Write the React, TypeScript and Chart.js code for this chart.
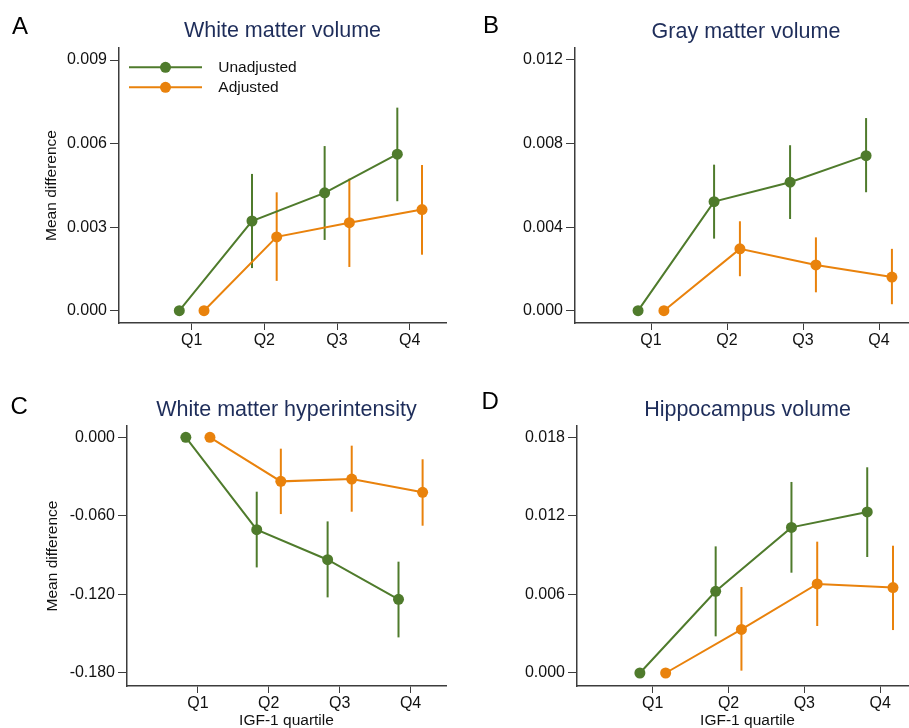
import { useEffect, useRef } from 'react';
import { Chart, registerables } from 'chart.js';
Chart.register(...registerables);

// ---- data ----
const QUARTILES = ['Q1', 'Q2', 'Q3', 'Q4'];
const QX = [1, 2, 3, 4];
const SERIES_LABELS = ['Unadjusted', 'Adjusted'];
const Y_TITLE = 'Mean difference';
const X_TITLE = 'IGF-1 quartile';

const WMV_TICKS = [0, 0.003, 0.006, 0.009];
const WMV_UNADJ = [0, 0.00322, 0.00423, 0.00562];
const WMV_UNADJ_LO = [null, 0.00153, 0.00254, 0.00393];
const WMV_UNADJ_HI = [null, 0.00491, 0.00591, 0.00729];
const WMV_ADJ = [0, 0.00265, 0.00316, 0.00363];
const WMV_ADJ_LO = [null, 0.00107, 0.00157, 0.00201];
const WMV_ADJ_HI = [null, 0.00425, 0.00474, 0.00523];

const GMV_TICKS = [0, 0.004, 0.008, 0.012];
const GMV_UNADJ = [0, 0.00522, 0.00615, 0.00742];
const GMV_UNADJ_LO = [null, 0.00345, 0.00439, 0.00567];
const GMV_UNADJ_HI = [null, 0.00699, 0.00792, 0.00922];
const GMV_ADJ = [0, 0.00296, 0.00219, 0.00161];
const GMV_ADJ_LO = [null, 0.00165, 0.00088, 0.00031];
const GMV_ADJ_HI = [null, 0.00428, 0.00351, 0.00296];

const WMH_TICKS = [-0.18, -0.12, -0.06, 0];
const WMH_UNADJ = [0, -0.0706, -0.0936, -0.1239];
const WMH_UNADJ_LO = [null, -0.0995, -0.1224, -0.153];
const WMH_UNADJ_HI = [null, -0.0416, -0.0643, -0.0951];
const WMH_ADJ = [0, -0.0337, -0.0319, -0.0421];
const WMH_ADJ_LO = [null, -0.0587, -0.0569, -0.0676];
const WMH_ADJ_HI = [null, -0.0087, -0.0064, -0.0168];

const HIP_TICKS = [0, 0.006, 0.012, 0.018];
const HIP_UNADJ = [0, 0.00624, 0.01112, 0.0123];
const HIP_UNADJ_LO = [null, 0.0028, 0.00766, 0.00886];
const HIP_UNADJ_HI = [null, 0.00967, 0.01459, 0.01571];
const HIP_ADJ = [0, 0.00333, 0.0068, 0.00652];
const HIP_ADJ_LO = [null, 0.00018, 0.00359, 0.00328];
const HIP_ADJ_HI = [null, 0.00657, 0.01003, 0.00972];

// ---- styles ----
const GREEN = '#4f7b2c';
const ORANGE = '#e9820c';
const NAVY = '#1e2d5a';
const AXIS = '#3c3c3c';
const TEXT = '#111111';
const FONT = '"Liberation Sans", Arial, Helvetica, sans-serif';
const OFFSET = 0.17;

const errorBars = {
  id: 'errorBars',
  beforeDatasetsDraw(chart: any) {
    const { ctx } = chart;
    const ys = chart.scales.y;
    chart.data.datasets.forEach((ds: any, i: number) => {
      if (!ds.errLo) return;
      const meta = chart.getDatasetMeta(i);
      ctx.save();
      ctx.strokeStyle = ds.borderColor;
      ctx.lineWidth = 2;
      meta.data.forEach((pt: any, j: number) => {
        const lo = ds.errLo[j];
        const hi = ds.errHi[j];
        if (lo == null || hi == null) return;
        ctx.beginPath();
        ctx.moveTo(pt.x, ys.getPixelForValue(lo));
        ctx.lineTo(pt.x, ys.getPixelForValue(hi));
        ctx.stroke();
      });
      ctx.restore();
    });
  },
};

const panelText = {
  id: 'panelText',
  afterDraw(chart: any, _args: any, opts: any) {
    const { ctx, chartArea } = chart;
    ctx.save();
    ctx.fillStyle = '#000';
    ctx.font = `24px ${FONT}`;
    ctx.textAlign = 'left';
    ctx.textBaseline = 'alphabetic';
    ctx.fillText(opts.letter, opts.letterX, opts.letterY);
    ctx.fillStyle = NAVY;
    ctx.font = `21.5px ${FONT}`;
    ctx.textAlign = 'center';
    ctx.fillText(opts.title, (chartArea.left + chartArea.right) / 2, opts.titleY);
    if (opts.legend) {
      const L = opts.legend;
      chart.data.datasets.forEach((ds: any, i: number) => {
        const y = L.y[i];
        ctx.strokeStyle = ds.borderColor;
        ctx.lineWidth = 2;
        ctx.beginPath();
        ctx.moveTo(L.x0, y);
        ctx.lineTo(L.x1, y);
        ctx.stroke();
        ctx.fillStyle = ds.borderColor;
        ctx.beginPath();
        ctx.arc((L.x0 + L.x1) / 2, y, 5.5, 0, Math.PI * 2);
        ctx.fill();
        ctx.fillStyle = TEXT;
        ctx.font = `15.5px ${FONT}`;
        ctx.textAlign = 'left';
        ctx.textBaseline = 'middle';
        ctx.fillText(ds.label, L.tx, y);
      });
    }
    ctx.restore();
  },
};

type Panel = {
  key: string;
  left: number; top: number; w: number; h: number;
  padL: number; padR: number; padT: number; yAxisW: number; xAxisH: number;
  yMin: number; yMax: number; yTicks: number[];
  unadj: number[]; unadjLo: (number | null)[]; unadjHi: (number | null)[];
  adj: number[]; adjLo: (number | null)[]; adjHi: (number | null)[];
  letter: string; letterX: number; letterY: number; title: string; titleY: number;
  yTitle: boolean; xTitle: boolean; legend?: any;
};

const PANELS: Panel[] = [
  {
    key: 'A', left: 0, top: 0, w: 455, h: 364,
    padL: 38, padR: 9, padT: 48, yAxisW: 81, xAxisH: 41,
    yMin: -0.000442, yMax: 0.009431, yTicks: WMV_TICKS,
    unadj: WMV_UNADJ, unadjLo: WMV_UNADJ_LO, unadjHi: WMV_UNADJ_HI,
    adj: WMV_ADJ, adjLo: WMV_ADJ_LO, adjHi: WMV_ADJ_HI,
    letter: 'A', letterX: 12, letterY: 34, title: 'White matter volume', titleY: 36.5,
    yTitle: true, xTitle: false,
    legend: { x0: 129, x1: 202, y: [67.3, 87.3], tx: 218.3 },
  },
  {
    key: 'B', left: 455, top: 0, w: 470, h: 364,
    padL: 0, padR: 8, padT: 48, yAxisW: 120, xAxisH: 41,
    yMin: -0.000589, yMax: 0.012574, yTicks: GMV_TICKS,
    unadj: GMV_UNADJ, unadjLo: GMV_UNADJ_LO, unadjHi: GMV_UNADJ_HI,
    adj: GMV_ADJ, adjLo: GMV_ADJ_LO, adjHi: GMV_ADJ_HI,
    letter: 'B', letterX: 28, letterY: 32.5, title: 'Gray matter volume', titleY: 37.5,
    yTitle: false, xTitle: false,
  },
  {
    key: 'C', left: 0, top: 364, w: 455, h: 364,
    padL: 39, padR: 9, padT: 62, yAxisW: 88, xAxisH: 42,
    yMin: -0.19017, yMax: 0.00864, yTicks: WMH_TICKS,
    unadj: WMH_UNADJ, unadjLo: WMH_UNADJ_LO, unadjHi: WMH_UNADJ_HI,
    adj: WMH_ADJ, adjLo: WMH_ADJ_LO, adjHi: WMH_ADJ_HI,
    letter: 'C', letterX: 10.5, letterY: 50, title: 'White matter hyperintensity', titleY: 51.5,
    yTitle: true, xTitle: true,
  },
  {
    key: 'D', left: 455, top: 364, w: 470, h: 364,
    padL: 0, padR: 7, padT: 62, yAxisW: 122, xAxisH: 42,
    yMin: -0.000993, yMax: 0.018863, yTicks: HIP_TICKS,
    unadj: HIP_UNADJ, unadjLo: HIP_UNADJ_LO, unadjHi: HIP_UNADJ_HI,
    adj: HIP_ADJ, adjLo: HIP_ADJ_LO, adjHi: HIP_ADJ_HI,
    letter: 'D', letterX: 26.5, letterY: 44.5, title: 'Hippocampus volume', titleY: 51.5,
    yTitle: false, xTitle: true,
  },
];

function PanelChart({ p }: { p: Panel }) {
  const ref = useRef<HTMLCanvasElement | null>(null);
  useEffect(() => {
    if (!ref.current) return;
    const mk = (vals: number[], off: number) => vals.map((v, i) => ({ x: QX[i] + off, y: v }));
    const chart = new Chart(ref.current, {
      type: 'line',
      data: {
        datasets: [
          {
            label: SERIES_LABELS[0], data: mk(p.unadj, -OFFSET),
            borderColor: GREEN, backgroundColor: GREEN, pointBackgroundColor: GREEN,
            borderWidth: 2, pointRadius: 5.5, pointBorderWidth: 0, tension: 0,
            errLo: p.unadjLo, errHi: p.unadjHi,
          } as any,
          {
            label: SERIES_LABELS[1], data: mk(p.adj, OFFSET),
            borderColor: ORANGE, backgroundColor: ORANGE, pointBackgroundColor: ORANGE,
            borderWidth: 2, pointRadius: 5.5, pointBorderWidth: 0, tension: 0,
            errLo: p.adjLo, errHi: p.adjHi,
          } as any,
        ],
      },
      options: {
        animation: false,
        responsive: false,
        maintainAspectRatio: false,
        devicePixelRatio: 1,
        layout: { padding: { left: p.padL, right: p.padR, top: p.padT, bottom: 0 } },
        plugins: {
          legend: { display: false },
          tooltip: { enabled: false },
          title: { display: false },
          panelText: {
            letter: p.letter, letterX: p.letterX, letterY: p.letterY,
            title: p.title, titleY: p.titleY, legend: p.legend,
          },
        } as any,
        scales: {
          x: {
            type: 'linear', min: 0, max: 4.5,
            afterBuildTicks: (ax: any) => { ax.ticks = QX.map((v) => ({ value: v })); },
            afterFit: (ax: any) => { ax.height = p.xAxisH; },
            ticks: {
              callback: (_v: any, i: number) => QUARTILES[i],
              font: { size: 16, family: FONT }, color: TEXT, padding: 1,
              maxRotation: 0, autoSkip: false,
            },
            grid: { drawOnChartArea: false, drawTicks: true, tickLength: 7, color: AXIS, lineWidth: 1 },
            border: { display: true, color: AXIS, width: 1.5 },
            title: {
              display: p.xTitle, text: X_TITLE, color: TEXT,
              font: { size: 15.5, family: FONT, lineHeight: 1 }, padding: 0,
            },
          },
          y: {
            type: 'linear', min: p.yMin, max: p.yMax,
            afterBuildTicks: (ax: any) => { ax.ticks = p.yTicks.map((v) => ({ value: v })); },
            afterFit: (ax: any) => { ax.width = p.yAxisW; },
            ticks: {
              callback: (v: any) => Number(v).toFixed(3),
              font: { size: 16, family: FONT }, color: TEXT, padding: 3,
            },
            grid: { drawOnChartArea: false, drawTicks: true, tickLength: 9, color: AXIS, lineWidth: 1 },
            border: { display: true, color: AXIS, width: 1.5 },
            title: {
              display: p.yTitle, text: Y_TITLE, color: TEXT,
              font: { size: 15.5, family: FONT }, padding: { top: 4, bottom: 4 },
            },
          },
        },
      },
      plugins: [errorBars, panelText],
    });
    return () => chart.destroy();
  }, [p]);
  return (
    <canvas
      ref={ref}
      width={p.w}
      height={p.h}
      style={{ position: 'absolute', left: p.left, top: p.top, width: p.w, height: p.h }}
    />
  );
}

export default function App() {
  return (
    <div
      style={{
        position: 'absolute', left: 0, top: 0, width: 909, height: 728,
        overflow: 'hidden', background: '#ffffff',
      }}
    >
      {PANELS.map((p) => <PanelChart key={p.key} p={p} />)}
    </div>
  );
}
